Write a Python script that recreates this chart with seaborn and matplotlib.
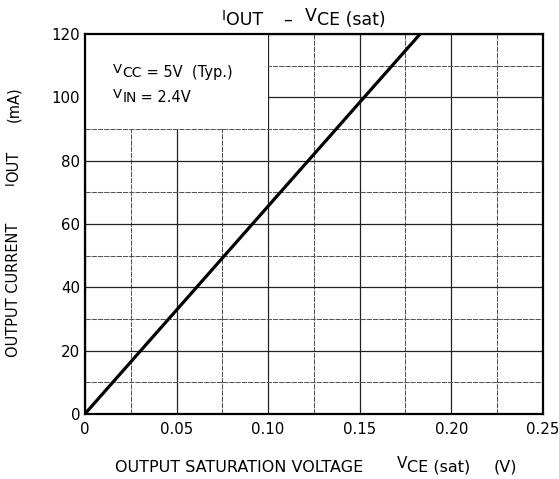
import matplotlib
matplotlib.use("Agg")
import matplotlib.pyplot as plt
from matplotlib.ticker import MultipleLocator
from matplotlib.patches import Rectangle
import seaborn as sns
import pandas as pd

# data (straight line through origin)
vce_sat = [0.0, 0.05, 0.10, 0.15, 0.183]
i_out = [0.0, 32.8, 65.6, 98.4, 120.0]

x_ticks = [0, 0.05, 0.10, 0.15, 0.20, 0.25]
x_labels = ["0", "0.05", "0.10", "0.15", "0.20", "0.25"]
y_ticks = [0, 20, 40, 60, 80, 100, 120]

sns.set_theme(style="white")
plt.rcParams['font.family'] = ['DejaVu Sans']

DPI = 100
df = pd.DataFrame({"vce": vce_sat, "iout": i_out})

fig = plt.figure(figsize=(5.59, 4.79), dpi=DPI)
ax = fig.add_axes([0.152, 0.136, 0.819, 0.793])

sns.lineplot(data=df, x="vce", y="iout", ax=ax, color="black", linewidth=2.3, zorder=3)

ax.set_xlim(0, 0.25)
ax.set_ylim(0, 120)
ax.set_xticks(x_ticks)
ax.set_xticklabels(x_labels)
ax.set_yticks(y_ticks)
ax.xaxis.set_minor_locator(MultipleLocator(0.025))
ax.yaxis.set_minor_locator(MultipleLocator(10))
ax.tick_params(which="both", length=0, labelsize=10.8, colors="black")
ax.tick_params(axis="x", pad=6)
ax.tick_params(axis="y", pad=3.5)
ax.set_xlabel("")
ax.set_ylabel("")

ax.set_axisbelow(True)
ax.grid(which="major", color="#222222", linewidth=0.9)
ax.grid(which="minor", color="#555555", linewidth=0.75, linestyle=(0, (5, 1)))

for s in ax.spines.values():
    s.set_color("black")
    s.set_linewidth(1.6)

# white label box in the upper left corner
ax.add_patch(Rectangle((0, 90), 0.10, 30, facecolor="white", edgecolor="none", zorder=1))

fig.canvas.draw()
renderer = fig.canvas.get_renderer()
H = fig.get_figheight() * DPI


def rich(x, y, pieces, center=False, rotation=0):
    # pieces: (text, fontsize, rise in points); x, y = pixels from top-left
    arts = []
    for txt, size, rise in pieces:
        t = fig.text(0, 0, txt, fontsize=size, color="black", rotation=rotation,
                     rotation_mode="anchor", ha="left", va="baseline",
                     transform=None)
        arts.append((t, rise))
    lens = []
    for t, rise in arts:
        bb = t.get_window_extent(renderer)
        lens.append(bb.height if rotation else bb.width)
    start = -sum(lens) / 2 if center else 0
    pos = start
    for (t, rise), ln in zip(arts, lens):
        r = rise * DPI / 72
        if rotation:
            t.set_position((x - r, H - y + pos))
        else:
            t.set_position((x + pos, H - y + r))
        pos += ln


# title
rich(222, 25, [("I", 10, 3.5), ("OUT", 12.5, 0)])
rich(283, 25, [("–", 12.5, 0)])
rich(305, 25, [("V", 12.5, 3), ("CE (sat)", 12.5, 0)])

# condition box
rich(113, 77, [("V", 9.5, 3), ("CC", 10, 0), (" = 5V  (Typ.)", 10.5, 0)])
rich(113, 102, [("V", 9.5, 3), ("IN", 10, 0), (" = 2.4V", 10.5, 0)])

# axis labels
rich(115, 472, [("OUTPUT SATURATION VOLTAGE", 11.5, 0)])
rich(397, 472, [("V", 11, 3), ("CE (sat)", 11.5, 0)])
rich(494, 472, [("(V)", 11.5, 0)])

rich(18, 290, [("OUTPUT CURRENT", 10.5, 0)], center=True, rotation=90)
rich(18, 168, [("I", 9, 3), ("OUT", 10.5, 0)], center=True, rotation=90)
rich(18, 104, [("(mA)", 10.5, 0)], center=True, rotation=90)

fig.savefig("out.png", dpi=DPI)
